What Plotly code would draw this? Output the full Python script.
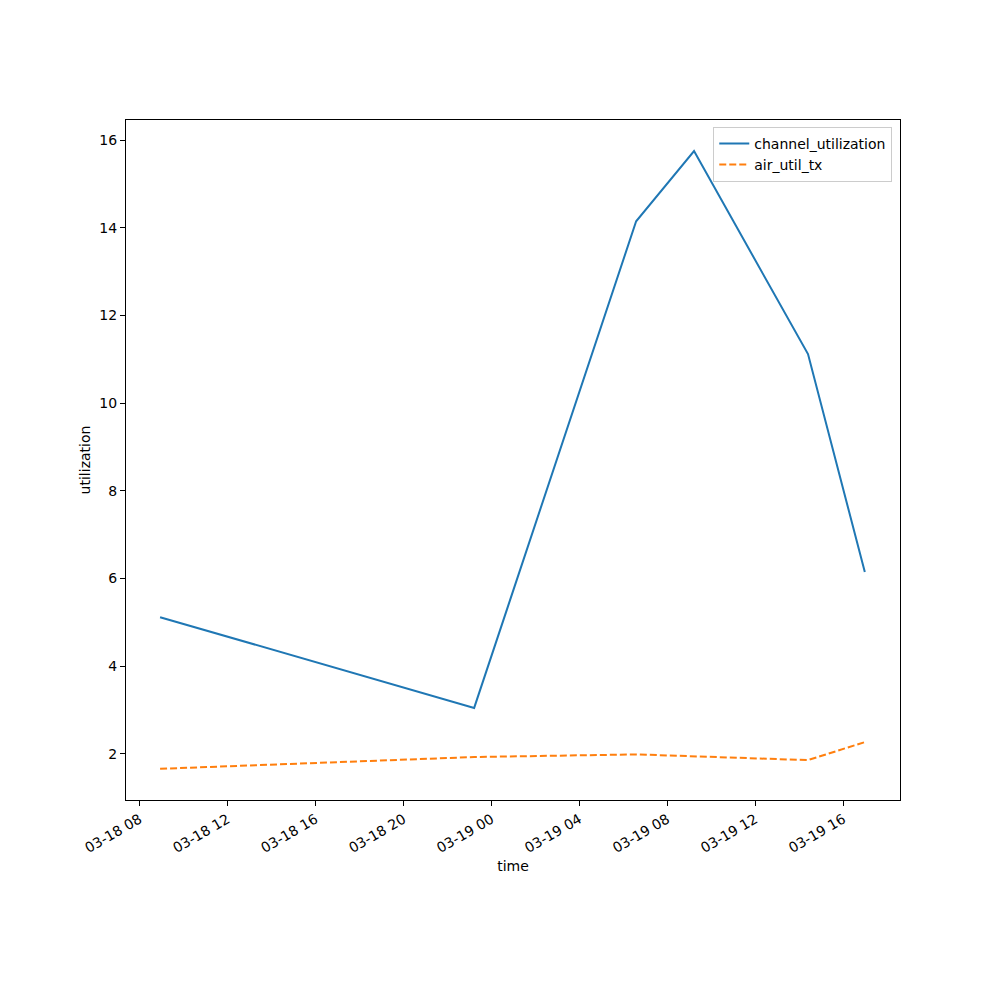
import plotly.graph_objects as go

times = ["2024-03-18 08:56", "2024-03-18 23:13", "2024-03-19 06:35",
         "2024-03-19 09:13", "2024-03-19 14:24", "2024-03-19 16:59"]
channel_utilization = [5.12, 3.05, 14.15, 15.75, 11.12, 6.15]
air_util_tx = [1.66, 1.93, 1.99, 1.95, 1.86, 2.27]

tick_vals = ["2024-03-18 08:00", "2024-03-18 12:00", "2024-03-18 16:00", "2024-03-18 20:00",
             "2024-03-19 00:00", "2024-03-19 04:00", "2024-03-19 08:00", "2024-03-19 12:00",
             "2024-03-19 16:00"]
tick_text = ["03-18 08", "03-18 12", "03-18 16", "03-18 20", "03-19 00",
             "03-19 04", "03-19 08", "03-19 12", "03-19 16"]

fig = go.Figure()
fig.add_trace(go.Scatter(x=times, y=channel_utilization, mode="lines", name="channel_utilization",
                         line=dict(color="#1f77b4", width=2)))
fig.add_trace(go.Scatter(x=times, y=air_util_tx, mode="lines", name="air_util_tx",
                         line=dict(color="#ff7f0e", width=2, dash="7px,3px")))

font = dict(family="DejaVu Sans", size=14, color="black")
fig.update_layout(
    width=1000, height=1000,
    margin=dict(l=118, r=108, t=112, b=208),
    paper_bgcolor="white", plot_bgcolor="white",
    font=font,
    showlegend=True,
    legend=dict(x=0.99, y=0.99, xanchor="right", yanchor="top",
                bordercolor="#cccccc", borderwidth=1, bgcolor="rgba(255,255,255,0.8)",
                tracegroupgap=0,
                font=dict(family="DejaVu Sans", size=14)),
    xaxis=dict(
        range=["2024-03-18 07:23", "2024-03-19 18:35"],
        tickvals=tick_vals, ticktext=tick_text, tickangle=-30,
        showgrid=False, zeroline=False,
        showline=True, linecolor="black", linewidth=1, mirror=True,
        ticks="outside", ticklen=5, tickcolor="black",
        tickfont=font,
        title=dict(text="time", font=font, standoff=6),
    ),
    yaxis=dict(
        range=[0.95, 16.46],
        tickvals=[2, 4, 6, 8, 10, 12, 14, 16],
        showgrid=False, zeroline=False,
        showline=True, linecolor="black", linewidth=1, mirror=True,
        ticks="outside", ticklen=5, tickcolor="black",
        tickfont=font,
        title=dict(text="utilization", font=font, standoff=5),
    ),
)

fig.write_html("out.html")
